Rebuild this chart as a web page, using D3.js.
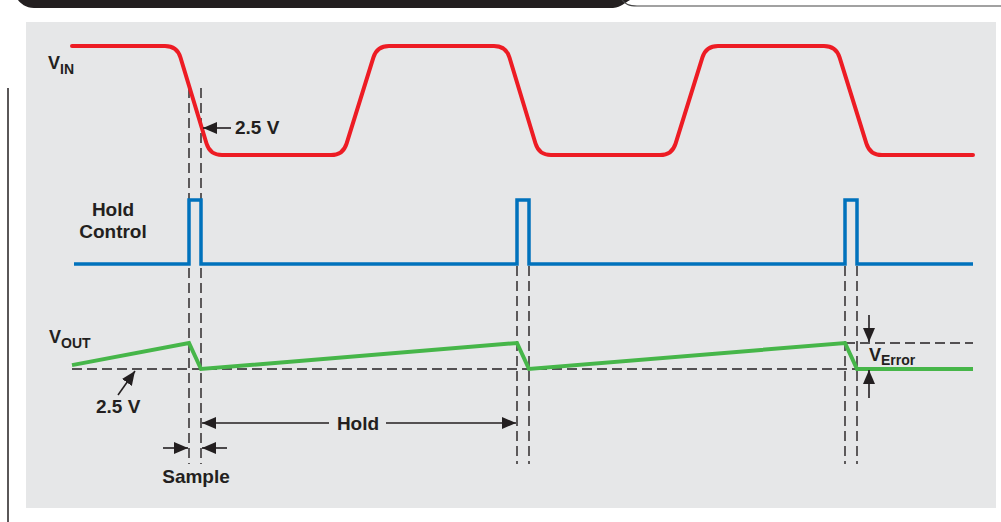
<!DOCTYPE html>
<html>
<head>
<meta charset="utf-8">
<script src="https://cdn.jsdelivr.net/npm/d3@7/dist/d3.min.js"></script>
<style>
  html, body { margin: 0; padding: 0; background: #fff; }
  svg { display: block; }
  text { font-family: "Liberation Sans", Arial, sans-serif; font-weight: bold; fill: #231f20; }
</style>
</head>
<body>
<div id="chart"></div>
<script>
// time in arbitrary units (0 = start of trace)
const vinPoints = [
  { t: 0, v: 5 }, { t: 105, v: 5 }, { t: 138, v: 0 }, { t: 271, v: 0 }, { t: 305, v: 5 },
  { t: 434, v: 5 }, { t: 467, v: 0 }, { t: 600, v: 0 }, { t: 634, v: 5 },
  { t: 764, v: 5 }, { t: 798, v: 0 }, { t: 901, v: 0 }
];
const holdPoints = [
  { t: 2, v: 0 }, { t: 117, v: 0 }, { t: 117, v: 1 }, { t: 129, v: 1 }, { t: 129, v: 0 },
  { t: 445, v: 0 }, { t: 445, v: 1 }, { t: 457, v: 1 }, { t: 457, v: 0 },
  { t: 773, v: 0 }, { t: 773, v: 1 }, { t: 785, v: 1 }, { t: 785, v: 0 },
  { t: 901, v: 0 }
];
const voutPoints = [
  { t: 0, v: 2.515 }, { t: 117, v: 2.6 }, { t: 129, v: 2.5 }, { t: 445, v: 2.6 },
  { t: 457, v: 2.5 }, { t: 773, v: 2.6 }, { t: 785, v: 2.5 }, { t: 901, v: 2.5 }
];
const samples = [ { start: 117, end: 129 }, { start: 445, end: 457 }, { start: 773, end: 785 } ];
const refLevel = 2.5;

const width = 1001, height = 522;

const x = d3.scaleLinear().domain([0, 901]).range([72, 973]);
const yIn = d3.scaleLinear().domain([0, 5]).range([155, 46]);
const yHold = d3.scaleLinear().domain([0, 1]).range([264, 200]);
const yOut = d3.scaleLinear().domain([2.5, 2.6]).range([369, 343]);

const svg = d3.select('#chart').append('svg')
  .attr('width', width).attr('height', height);

const defs = svg.append('defs');
defs.append('marker')
  .attr('id', 'arrow')
  .attr('markerUnits', 'userSpaceOnUse')
  .attr('viewBox', '0 0 14 12')
  .attr('refX', 14).attr('refY', 6)
  .attr('markerWidth', 14).attr('markerHeight', 12)
  .attr('orient', 'auto')
  .append('path').attr('d', 'M0,0 L14,6 L0,12 Z').attr('fill', '#231f20');

// page frame: header band, rule, side line
svg.append('path')
  .attr('d', 'M18,0 L630,0 C624,3 622,7 613,8 L34,8 C26,8 20,3 18,0 Z')
  .attr('fill', '#231f20');
svg.append('path')
  .attr('d', 'M622,0 C626,4 628,6 637,6 L1001,6')
  .attr('fill', 'none').attr('stroke', '#444').attr('stroke-width', 1.2);
svg.append('rect')
  .attr('x', 26).attr('y', 22).attr('width', 970).attr('height', 486)
  .attr('fill', '#e6e7e8');
svg.append('line')
  .attr('x1', 8).attr('x2', 8).attr('y1', 88).attr('y2', height)
  .attr('stroke', '#231f20').attr('stroke-width', 1.5);

// rounded-corner path for the input waveform
function roundedPath(pts, r) {
  let d = 'M' + pts[0][0] + ',' + pts[0][1];
  for (let i = 1; i < pts.length - 1; i++) {
    const p0 = pts[i - 1], p1 = pts[i], p2 = pts[i + 1];
    const l1 = Math.hypot(p1[0] - p0[0], p1[1] - p0[1]);
    const l2 = Math.hypot(p2[0] - p1[0], p2[1] - p1[1]);
    const r1 = Math.min(r, l1 / 2), r2 = Math.min(r, l2 / 2);
    const a = [p1[0] - (p1[0] - p0[0]) * r1 / l1, p1[1] - (p1[1] - p0[1]) * r1 / l1];
    const b = [p1[0] + (p2[0] - p1[0]) * r2 / l2, p1[1] + (p2[1] - p1[1]) * r2 / l2];
    d += 'L' + a[0] + ',' + a[1] + 'Q' + p1[0] + ',' + p1[1] + ' ' + b[0] + ',' + b[1];
  }
  const last = pts[pts.length - 1];
  return d + 'L' + last[0] + ',' + last[1];
}

const dash = '10,5';
const dashStyle = g => g.attr('stroke', '#231f20').attr('stroke-width', 1.4)
  .attr('stroke-dasharray', dash).attr('fill', 'none');

// vertical dashed guides
samples.forEach((s, i) => {
  [s.start, s.end].forEach(t => {
    svg.append('line')
      .attr('x1', x(t)).attr('x2', x(t))
      .attr('y1', i === 0 ? 88 : yHold(0) + 2).attr('y2', 464)
      .call(dashStyle);
  });
});

// horizontal dashed: 2.5 V reference and held level
svg.append('line')
  .attr('x1', x(0)).attr('x2', x(samples[2].end) + 2)
  .attr('y1', yOut(refLevel)).attr('y2', yOut(refLevel))
  .call(dashStyle);
svg.append('line')
  .attr('x1', x(samples[2].start)).attr('x2', x(901))
  .attr('y1', yOut(2.6)).attr('y2', yOut(2.6))
  .call(dashStyle);

// VIN
svg.append('path')
  .attr('d', roundedPath(vinPoints.map(d => [x(d.t), yIn(d.v)]), 12))
  .attr('fill', 'none').attr('stroke', '#ed1c24').attr('stroke-width', 4)
  .attr('stroke-linecap', 'round');

// Hold control
svg.append('path')
  .attr('d', d3.line().x(d => x(d.t)).y(d => yHold(d.v))(holdPoints))
  .attr('fill', 'none').attr('stroke', '#0072bc').attr('stroke-width', 3.5)
  .attr('stroke-linejoin', 'miter');

// VOUT
svg.append('path')
  .attr('d', d3.line().x(d => x(d.t)).y(d => yOut(d.v))(voutPoints))
  .attr('fill', 'none').attr('stroke', '#46b649').attr('stroke-width', 4)
  .attr('stroke-linejoin', 'miter');

// arrows
function arrow(x1, y1, x2, y2) {
  svg.append('line')
    .attr('x1', x1).attr('y1', y1).attr('x2', x2).attr('y2', y2)
    .attr('stroke', '#231f20').attr('stroke-width', 1.6)
    .attr('marker-end', 'url(#arrow)');
}
// 2.5 V crossing on the falling edge (at end of first sample)
const xs = x(samples[0].end);
const tipY = 128;
arrow(xs + 30, tipY, xs + 2, tipY);
// 2.5 V reference pointer
arrow(118, 395, 135, yOut(refLevel) + 2);
// Hold span
arrow(x(samples[0].end) + 128, 423, x(samples[0].end) + 1, 423);
arrow(386, 423, x(samples[1].start) - 1, 423);
// Sample width
arrow(x(samples[0].start) - 26, 448, x(samples[0].start) - 1, 448);
arrow(x(samples[0].end) + 26, 448, x(samples[0].end) + 1, 448);
// VError
const xe = x(samples[2].end) + 12;
arrow(xe, 315, xe, yOut(2.6) - 1);
arrow(xe, 398, xe, yOut(refLevel) + 1);

// labels
function label(tx, ty, main, sub, size, subSize, dy) {
  const t = svg.append('text').attr('x', tx).attr('y', ty).style('font-size', size + 'px');
  t.append('tspan').text(main);
  if (sub) t.append('tspan').attr('dy', dy).style('font-size', subSize + 'px').text(sub);
  return t;
}
label(48, 69, 'V', 'IN', 18, 14, 5);
label(49, 343, 'V', 'OUT', 18, 14, 5);
label(869, 361, 'V', 'Error', 18, 14, 4);
label(235, 134, '2.5 V', null, 19);
label(96, 413, '2.5 V', null, 19);

svg.append('text').attr('x', 113).attr('y', 216).attr('text-anchor', 'middle')
  .style('font-size', '19px').text('Hold');
svg.append('text').attr('x', 113).attr('y', 238).attr('text-anchor', 'middle')
  .style('font-size', '19px').text('Control');
svg.append('text').attr('x', 358).attr('y', 430).attr('text-anchor', 'middle')
  .style('font-size', '19px').text('Hold');
svg.append('text').attr('x', 196).attr('y', 483).attr('text-anchor', 'middle')
  .style('font-size', '19px').text('Sample');
</script>
</body>
</html>
